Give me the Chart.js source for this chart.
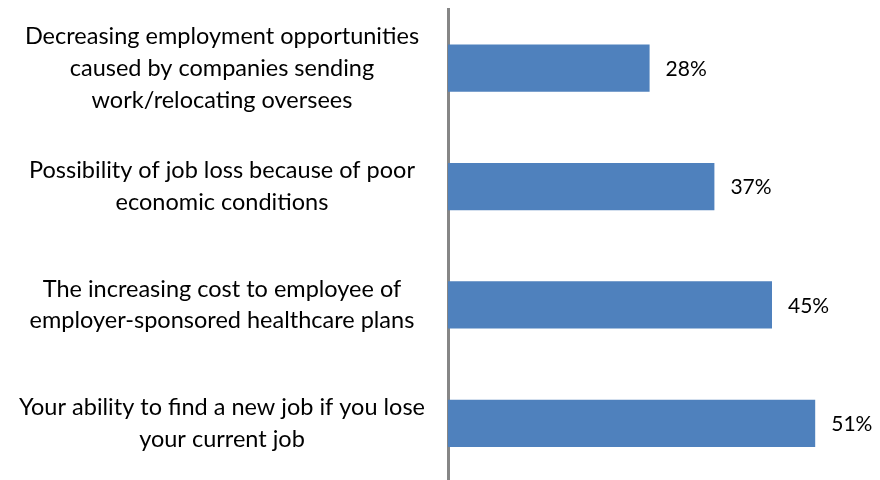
<!DOCTYPE html>
<html>
<head>
<meta charset="utf-8">
<script src="https://cdn.jsdelivr.net/npm/chart.js@4/dist/chart.umd.min.js"></script>
<style>
  html, body { margin: 0; padding: 0; background: #fff; overflow: hidden; }
  #wrap { position: relative; width: 880px; height: 484px; }
</style>
</head>
<body>
<div id="wrap"><canvas id="concernChart"></canvas></div>
<script>
// categories (each label split into its display lines)
const concernLabels = [
  ['Decreasing employment opportunities', 'caused by companies sending', 'work/relocating oversees'],
  ['Possibility of job loss because of poor', 'economic conditions'],
  ['The increasing cost to employee of', 'employer-sponsored healthcare plans'],
  ['Your ability to find a new job if you lose', 'your current job']
];
const concernValues = [28, 37, 45, 51];

const FONT = 'Lato, "Open Sans", sans-serif';

// draws "28%" etc. just right of each bar end
const barValueLabels = {
  id: 'barValueLabels',
  afterDatasetsDraw(chart) {
    const ctx = chart.ctx;
    const meta = chart.getDatasetMeta(0);
    ctx.save();
    ctx.font = '21px ' + FONT;
    ctx.fillStyle = '#000';
    ctx.textAlign = 'left';
    ctx.textBaseline = 'middle';
    meta.data.forEach((bar, i) => {
      ctx.fillText(concernValues[i] + '%', bar.x + 16, bar.y + 1);
    });
    ctx.restore();
  }
};

const concernChart = new Chart(document.getElementById('concernChart'), {
  type: 'bar',
  data: {
    labels: concernLabels,
    datasets: [{
      data: concernValues,
      backgroundColor: '#4F81BD',
      borderWidth: 0,
      categoryPercentage: 1.0,
      barPercentage: 0.4
    }]
  },
  options: {
    indexAxis: 'y',
    responsive: true,
    maintainAspectRatio: false,
    animation: false,
    layout: { padding: { top: 9, bottom: 1.5, left: 0, right: 0 } },
    plugins: {
      legend: { display: false },
      tooltip: { enabled: false }
    },
    scales: {
      x: {
        display: false,
        min: 0,
        max: 60
      },
      y: {
        z: 1,
        grid: { display: false, drawTicks: false },
        border: { display: true, color: '#868686', width: 3 },
        ticks: {
          crossAlign: 'center',
          padding: 23,
          color: '#000',
          font: { family: FONT, size: 23.5, lineHeight: 1.36 }
        },
        afterFit(scale) {
          scale.width = 448;
          scale.paddingTop = 0;
          scale.paddingBottom = 0;
        }
      }
    }
  },
  plugins: [barValueLabels]
});
</script>
</body>
</html>
